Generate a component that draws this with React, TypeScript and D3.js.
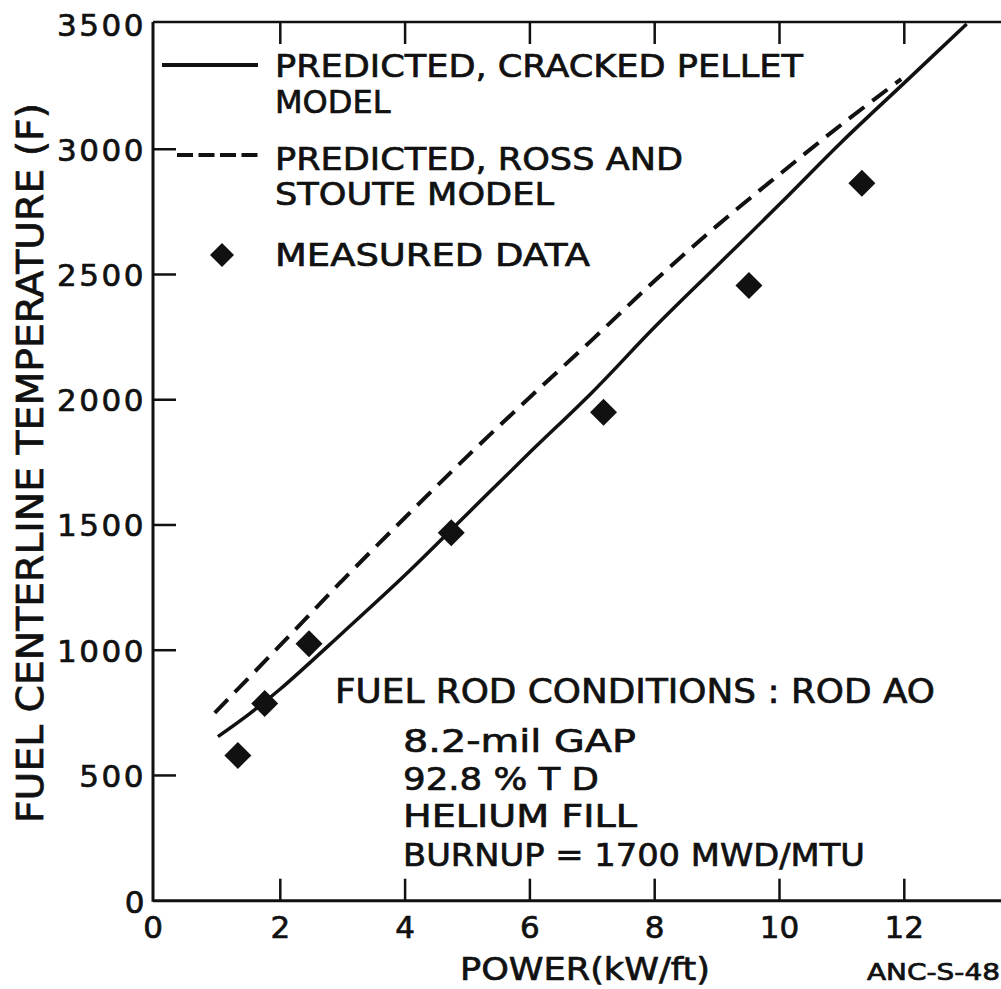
import React from "react";
import * as d3 from "d3";

// ---- Data ----
const powerSolid = [1.0, 1.5, 2, 3, 4, 5, 6, 7, 8, 9, 10, 11, 12, 13];
const tempSolid = [655, 745, 845, 1070, 1300, 1545, 1790, 2030, 2290, 2535, 2780, 3030, 3265, 3500];

const powerDashed = [0.95, 2, 3, 4, 5, 6, 7, 8, 9, 10, 11, 11.95];
const tempDashed = [750, 1020, 1280, 1530, 1775, 2010, 2240, 2475, 2695, 2900, 3100, 3280];

const powerMeasured = [1.32, 1.75, 2.46, 4.74, 7.18, 9.51, 11.32];
const tempMeasured = [580, 787, 1026, 1469, 1950, 2456, 2864];

const xTicks = [0, 2, 4, 6, 8, 10, 12];
const yTicks = [0, 500, 1000, 1500, 2000, 2500, 3000, 3500];

const legendLabels = [
  "PREDICTED, CRACKED PELLET",
  "MODEL",
  "PREDICTED, ROSS AND",
  "STOUTE MODEL",
  "MEASURED DATA",
];
const conditionTitle = "FUEL ROD CONDITIONS : ROD AO";
const conditionLines = ["8.2-mil GAP", "92.8 % T D", "HELIUM FILL", "BURNUP = 1700 MWD/MTU"];

const FONT = "'DejaVu Sans', Verdana, sans-serif";
const INK = "#111";
const TS = { stroke: INK, strokeWidth: 0.7 };

export default function App() {
  const x = d3.scaleLinear().domain([0, 13.5]).range([155.5, 155.5 + 13.5 * 62.4]);
  const y = d3.scaleLinear().domain([0, 3500]).range([900.7, 24]);

  const line = d3
    .line<[number, number]>()
    .x((d) => x(d[0]))
    .y((d) => y(d[1]))
    .curve(d3.curveCatmullRom.alpha(0.5));

  const solidPts = powerSolid.map((p, i) => [p, tempSolid[i]] as [number, number]);
  const dashedPts = powerDashed.map((p, i) => [p, tempDashed[i]] as [number, number]);

  const diamond = (cx: number, cy: number, r: number) =>
    `M${cx},${cy - r}L${cx + r},${cy}L${cx},${cy + r}L${cx - r},${cy}Z`;

  const axisX = x(0) - 2.5;
  const axisTop = y(3500) - 2;
  const axisBottom = y(0);

  const legendLens = [528, null, 408, 279, 315];
  const legendBase = [77, 113, 170, 205, 266];
  const condLens = [233, 196, 234, 462];
  const condBase = [752, 790, 827, 866];

  return (
    <svg
      width={1001}
      height={989}
      style={{ position: "absolute", left: 0, top: 0, background: "#fff" }}
      fontFamily={FONT}
    >
      <rect x={0} y={0} width={1001} height={989} fill="#fff" />
      {/* frame */}
      <line x1={axisX} y1={axisTop} x2={axisX} y2={axisBottom + 1} stroke={INK} strokeWidth={3} />
      <line x1={axisX} y1={axisBottom} x2={1001} y2={axisBottom} stroke={INK} strokeWidth={3} />
      <line x1={axisX} y1={axisTop} x2={1001} y2={axisTop} stroke={INK} strokeWidth={2.5} />

      {/* y ticks */}
      {yTicks.map((t) => (
        <g key={"y" + t}>
          {t > 0 && t < 3500 && (
            <line x1={axisX} y1={y(t)} x2={axisX + 23} y2={y(t)} stroke={INK} strokeWidth={2.5} />
          )}
          <text
            x={t === 0 ? 147 : 146}
            y={t === 0 ? 913 : y(t) + 11.5}
            textAnchor="end"
            fontSize={31}
            letterSpacing={2.5}
            fill={INK}
            {...TS}
          >
            {t}
          </text>
        </g>
      ))}

      {/* x ticks */}
      {xTicks.map((t) => (
        <g key={"x" + t}>
          {t > 0 && (
            <>
              <line x1={x(t)} y1={axisBottom} x2={x(t)} y2={axisBottom - 22} stroke={INK} strokeWidth={2.5} />
              <line x1={x(t)} y1={axisTop} x2={x(t)} y2={axisTop + 22} stroke={INK} strokeWidth={2.5} />
            </>
          )}
          <text x={t === 0 ? 153 : x(t)} y={938} textAnchor="middle" fontSize={31} fill={INK} {...TS}>
            {t}
          </text>
        </g>
      ))}

      {/* axis titles */}
      <text
        transform="translate(43,463) rotate(-90)"
        textAnchor="middle"
        fontSize={38}
        fill={INK}
        textLength={720}
        lengthAdjust="spacingAndGlyphs"
        {...TS}
      >
        FUEL CENTERLINE TEMPERATURE (F)
      </text>
      <text x={460} y={980} fontSize={32} fill={INK} textLength={250} lengthAdjust="spacingAndGlyphs" {...TS}>
        POWER(kW/ft)
      </text>
      <text x={867} y={980} fontSize={23} fill={INK} textLength={133} lengthAdjust="spacingAndGlyphs" {...TS}>
        ANC-S-48
      </text>

      {/* curves */}
      <path d={line(solidPts) || ""} fill="none" stroke={INK} strokeWidth={3.5} />
      <path d={line(dashedPts) || ""} fill="none" stroke={INK} strokeWidth={4} strokeDasharray="19 10" />

      {/* measured data */}
      {powerMeasured.map((p, i) => (
        <path key={"m" + i} d={diamond(x(p), y(tempMeasured[i]), 13.5)} fill={INK} />
      ))}

      {/* legend */}
      <line x1={162} y1={65} x2={258} y2={65} stroke={INK} strokeWidth={4} />
      <line x1={177} y1={155} x2={258} y2={155} stroke={INK} strokeWidth={4} strokeDasharray="16 5.5" />
      <path d={diamond(222, 255, 12)} fill={INK} />
      {legendLabels.map((s, i) => (
        <text
          key={"l" + i}
          x={275}
          y={legendBase[i]}
          fontSize={32}
          fill={INK}
          {...TS}
          {...(legendLens[i] ? { textLength: legendLens[i], lengthAdjust: "spacingAndGlyphs" } : {})}
        >
          {s}
        </text>
      ))}

      {/* conditions */}
      <text x={335} y={703} fontSize={33} fill={INK} textLength={600} lengthAdjust="spacingAndGlyphs" {...TS}>
        {conditionTitle}
      </text>
      {conditionLines.map((s, i) => (
        <text
          key={"c" + i}
          x={403}
          y={condBase[i]}
          fontSize={32}
          fill={INK}
          textLength={condLens[i]}
          lengthAdjust="spacingAndGlyphs"
          {...TS}
        >
          {s}
        </text>
      ))}
    </svg>
  );
}
